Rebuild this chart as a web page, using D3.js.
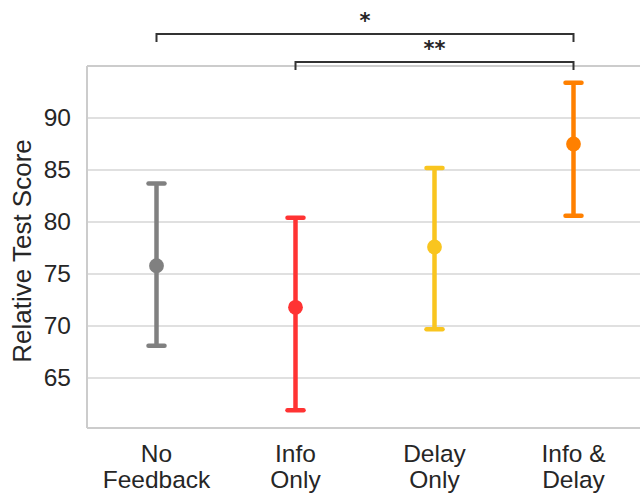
<!DOCTYPE html>
<html>
<head>
<meta charset="utf-8">
<script src="https://cdn.jsdelivr.net/npm/d3@7"></script>
<style>
  html, body { margin: 0; padding: 0; background: #fff; }
  svg { display: block; font-family: "Liberation Sans", Arial, sans-serif; }
</style>
</head>
<body>
<svg id="chart" width="640" height="494"></svg>
<script>
// Group labels (two lines each) and summary statistics
const categories = [["No", "Feedback"], ["Info", "Only"], ["Delay", "Only"], ["Info &", "Delay"]];
const means = [75.8, 71.8, 77.6, 87.5];
const upper = [83.7, 80.4, 85.2, 93.4];
const lower = [68.1, 61.9, 69.7, 80.6];
const colors = ["#808080", "#ff3333", "#f9c51f", "#ff8000"];
const yTicks = [65, 70, 75, 80, 85, 90];
// Significance brackets: [from group, to group, label]
const brackets = [[0, 3, "*"], [1, 3, "**"]];

const svg = d3.select("#chart");
const margin = { left: 87, top: 66, bottom: 428 };
const step = 139;

const x = d3.scaleBand()
  .domain(d3.range(categories.length))
  .range([margin.left, margin.left + step * categories.length])
  .paddingInner(0).paddingOuter(0);
const cx = i => x(i) + x.bandwidth() / 2;

const y = d3.scaleLinear().domain([60.2, 95]).range([margin.bottom, margin.top]);

// Gridlines
svg.append("g").selectAll("line").data(yTicks).join("line")
  .attr("x1", margin.left).attr("x2", 640)
  .attr("y1", d => y(d)).attr("y2", d => y(d))
  .attr("stroke", "#d6d6d6").attr("stroke-width", 1.5);

// Frame (left, top, bottom)
const frame = svg.append("g").attr("stroke", "#cccccc").attr("stroke-width", 2).attr("fill", "none");
frame.append("line").attr("x1", margin.left).attr("x2", margin.left).attr("y1", margin.top).attr("y2", margin.bottom);
frame.append("line").attr("x1", margin.left).attr("x2", 640).attr("y1", margin.top).attr("y2", margin.top);
frame.append("line").attr("x1", margin.left).attr("x2", 640).attr("y1", margin.bottom).attr("y2", margin.bottom);

// Y axis tick labels
const yAxis = svg.append("g")
  .attr("transform", `translate(${margin.left},0)`)
  .call(d3.axisLeft(y).tickValues(yTicks).tickSize(0).tickPadding(16));
yAxis.select(".domain").remove();
yAxis.selectAll("text").attr("font-size", 24.5).attr("fill", "#262626")
  .attr("font-family", "Liberation Sans, Arial, sans-serif");

// X axis labels (two lines)
const xLab = svg.append("g").selectAll("text").data(categories).join("text")
  .attr("x", (d, i) => cx(i)).attr("y", 462)
  .attr("text-anchor", "middle").attr("font-size", 24.5).attr("fill", "#262626");
xLab.append("tspan").attr("x", (d, i) => cx(i)).attr("dy", 0).text(d => d[0]);
xLab.append("tspan").attr("x", (d, i) => cx(i)).attr("dy", 26).text(d => d[1]);

// Y axis title
svg.append("text")
  .attr("transform", `translate(31,251) rotate(-90)`)
  .attr("text-anchor", "middle").attr("font-size", 26).attr("fill", "#262626")
  .text("Relative Test Score");

// Error bars with caps and mean points
const groups = svg.append("g").selectAll("g").data(means).join("g");
groups.append("line")
  .attr("x1", (d, i) => cx(i)).attr("x2", (d, i) => cx(i))
  .attr("y1", (d, i) => y(lower[i])).attr("y2", (d, i) => y(upper[i]))
  .attr("stroke", (d, i) => colors[i]).attr("stroke-width", 4.5);
groups.append("line")
  .attr("x1", (d, i) => cx(i) - 8).attr("x2", (d, i) => cx(i) + 8)
  .attr("y1", (d, i) => y(upper[i])).attr("y2", (d, i) => y(upper[i]))
  .attr("stroke", (d, i) => colors[i]).attr("stroke-width", 4.5).attr("stroke-linecap", "round");
groups.append("line")
  .attr("x1", (d, i) => cx(i) - 8).attr("x2", (d, i) => cx(i) + 8)
  .attr("y1", (d, i) => y(lower[i])).attr("y2", (d, i) => y(lower[i]))
  .attr("stroke", (d, i) => colors[i]).attr("stroke-width", 4.5).attr("stroke-linecap", "round");
groups.append("circle")
  .attr("cx", (d, i) => cx(i)).attr("cy", d => y(d)).attr("r", 7.4)
  .attr("fill", (d, i) => colors[i]);

// Significance brackets
const bracketY = [34, 62];
const starY = [28, 56];
brackets.forEach(([a, b, label], k) => {
  const by = bracketY[k];
  svg.append("path")
    .attr("d", `M${cx(a)},${by + 8}V${by}H${cx(b)}V${by + 8}`)
    .attr("fill", "none").attr("stroke", "#333333").attr("stroke-width", 2);
  svg.append("text")
    .attr("x", (cx(a) + cx(b)) / 2).attr("y", starY[k])
    .attr("text-anchor", "middle").attr("font-size", 21).attr("font-weight", "bold")
    .attr("fill", "#262626")
    .attr("font-family", "DejaVu Sans, sans-serif")
    .text(label);
});
</script>
</body>
</html>
